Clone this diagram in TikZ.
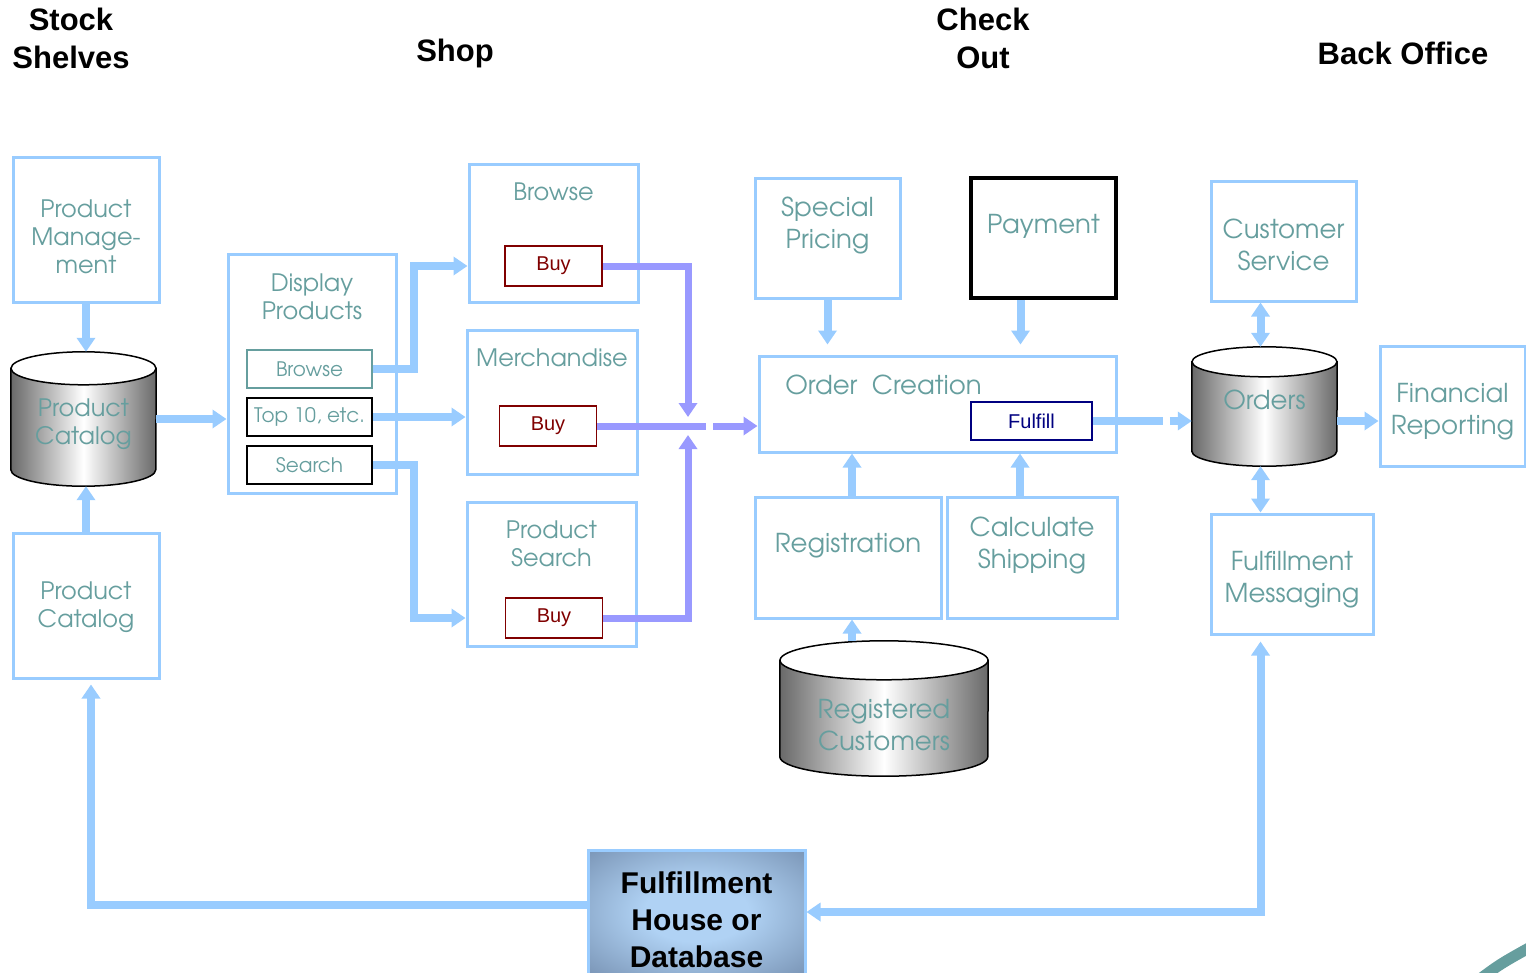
\documentclass[tikz,border=0pt]{standalone}
\usepackage{fontspec}
\setmainfont{Liberation Sans}
\newfontfamily\gothic{TeX Gyre Adventor}
\usetikzlibrary{arrows.meta}
\usetikzlibrary{positioning}

\definecolor{boxblue}{RGB}{153,204,255}
\definecolor{buyblue}{RGB}{153,153,255}
\definecolor{tealtext}{RGB}{102,158,158}
\definecolor{buyred}{RGB}{128,0,0}
\definecolor{fillnavy}{RGB}{0,0,128}
\definecolor{drumgray}{RGB}{105,105,105}
\definecolor{fhdark}{RGB}{70,90,122}
\definecolor{fhlight}{RGB}{176,210,244}
\definecolor{swoosh}{RGB}{102,158,158}

\pgfdeclareradialshading{fhshade}{\pgfpoint{0bp}{0bp}}{%
  color(0bp)=(fhlight); color(12bp)=(fhlight); color(40bp)=(fhdark!60!fhlight); color(62bp)=(fhdark); color(80bp)=(fhdark)}

% database drum: node name, x radius, y radius
\newcommand\drum[3]{%
  \shadedraw[left color=drumgray, right color=drumgray, middle color=white, line width=1.5pt]
    ([yshift=-#3pt]#1.north west) -- ([yshift=#3pt]#1.south west)
    arc[start angle=180, end angle=0, x radius=#2, y radius=#3]
    -- ([yshift=-#3pt]#1.north east) -- cycle;
  \filldraw[fill=white, line width=1.5pt] ([yshift=-#3pt]#1.north) ellipse[x radius=#2, y radius=#3];
}

\tikzset{
  box/.style={draw=boxblue, line width=3pt, inner sep=0pt},
  tealtxt/.style={text=tealtext, font=\gothic\fontsize{24}{28}\selectfont, align=center},
  bigteal/.style={text=tealtext, font=\gothic\fontsize{26}{32}\selectfont, align=center},
  minibox/.style={draw=#1, line width=2pt, minimum width=125, minimum height=38, inner sep=0pt,
    text=tealtext, font=\gothic\fontsize{20}{24}\selectfont},
  buybox/.style={draw=buyred, line width=1.6pt, minimum width=97, minimum height=40, inner sep=0pt,
    text=buyred, font=\fontsize{20}{24}\selectfont},
  head/.style={font=\bfseries\fontsize{31}{38}\selectfont, align=center},
  drumnode/.style={inner sep=0pt},
  flow/.style={draw=boxblue, line width=8pt, ->},
  buyflow/.style={draw=buyblue, line width=7pt, ->},
}

\begin{document}
\begin{tikzpicture}[x=1pt,y=-1pt,>={Triangle[width=18pt,length=14pt]}]
\path[use as bounding box] (0,0) rectangle (1526,972);
\clip (0,0) rectangle (1526,972);

% Column headings
\node[head] (hstock) at (71,38) {Stock\\Shelves};
\node[head] (hshop) at (455,53) {Shop};
\node[head] (hcheck) at (983,38) {Check\\Out};
\node[head] (hback) at (1403,53) {Back Office};

% Stock shelves
\node[box, minimum width=146, minimum height=145] (pman) at (86,230) {};
\node[tealtxt] (pmanlbl) at ([yshift=-7]pman.center) {Product\\Manage-\\ment};
\node[drumnode, minimum width=145, minimum height=134] (pcat) at (83.5,419) {};
\drum{pcat}{72.5}{16.5}
\node[tealtxt] (pcatlbl) at ([yshift=-5]pcat.center) {Product\\Catalog};
\node[box, minimum width=146, minimum height=145] (pcbox) at (86,605.5) {};
\node[tealtxt] (pcboxlbl) at ([yshift=-2]pcbox.center) {Product\\Catalog};

% Shop
\node[box, minimum width=168, minimum height=239] (disp) at (312,373.5) {};
\node[tealtxt] (displbl) at ([yshift=77]disp.center) {Display\\Products};
\node[minibox=tealtext] (dbrowse) at (309.5,369) {Browse};
\node[minibox=black] (dtop) at (309.5,417) {Top 10, etc.};
\node[minibox=black] (dsearch) at (309.5,465) {Search};

\node[box, minimum width=169, minimum height=138] (browse) at (553.5,233) {};
\node[tealtxt] (browselbl) at ([yshift=41]browse.center) {Browse};
\node[buybox] (buy1) at (553.5,266) {Buy};
\node[box, minimum width=170, minimum height=144] (merch) at (552,402) {};
\node[tealtxt] (merchlbl) at ([yshift=44]merch.center) {Merchandise};
\node[buybox] (buy2) at (548,426) {Buy};
\node[box, minimum width=169, minimum height=144] (psearch) at (551.5,574) {};
\node[tealtxt] (psearchlbl) at ([yshift=30]psearch.center) {Product\\Search};
\node[buybox] (buy3) at (554,618) {Buy};

% Check out
\node[box, minimum width=145, minimum height=120] (sprice) at (827.5,238) {};
\node[bigteal] (spricelbl) at ([yshift=12]sprice.center) {Special\\Pricing};
\node[draw=black, line width=3.5pt, minimum width=145, minimum height=120] (payment) at (1043.5,238) {};
\node[bigteal] (paymentlbl) at ([yshift=12]payment.center) {Payment};
\node[box, minimum width=357, minimum height=96] (ordc) at (937.5,404) {};
\node[bigteal] (ordclbl) at ([xshift=-54,yshift=19]ordc.center) {Order\ \ Creation};
\node[draw=fillnavy, line width=1.6pt, minimum width=121, minimum height=38, inner sep=0pt,
  text=fillnavy, font=\fontsize{20}{24}\selectfont] (fulfill) at (1031.5,421) {Fulfill};
\node[box, minimum width=186, minimum height=121] (reg) at (848,557.5) {};
\node[bigteal] (reglbl) at ([yshift=12]reg.center) {Registration};
\node[box, minimum width=170, minimum height=121] (cship) at (1032,557.5) {};
\node[bigteal] (cshiplbl) at ([yshift=12]cship.center) {Calculate\\Shipping};
\node[drumnode, minimum width=208, minimum height=135] (rcust) at (884,708.5) {};
\drum{rcust}{104}{19.5}
\node[bigteal] (rcustlbl) at ([yshift=-17]rcust.center) {Registered\\Customers};

% Back office
\node[box, minimum width=145, minimum height=120] (csvc) at (1283.5,241) {};
\node[bigteal] (csvclbl) at ([yshift=-4]csvc.center) {Customer\\Service};
\node[drumnode, minimum width=145, minimum height=119] (orders) at (1264.5,406.5) {};
\drum{orders}{72.5}{15}
\node[bigteal] (orderslbl) at ([yshift=7]orders.center) {Orders};
\node[box, minimum width=145, minimum height=120] (finrep) at (1452.5,406) {};
\node[bigteal] (finreplbl) at ([yshift=-6]finrep.center) {Financial\\Reporting};
\node[box, minimum width=162, minimum height=120] (fmsg) at (1292,574) {};
\node[bigteal] (fmsglbl) at ([yshift=-6]fmsg.center) {Fulfillment\\Messaging};

% Fulfillment house
\node[box, shade, shading=fhshade, minimum width=217, minimum height=124] (fhouse) at (696.5,912) {};
\node[font=\bfseries\fontsize{30}{37}\selectfont, align=center] (fhouselbl) at ([yshift=-8]fhouse.center) {Fulfillment\\House or\\Database};

% Connectors
\draw[flow] (pman.south) -- (pman.south |- pcat.north);
\draw[flow] (pcbox.north) -- (pcbox.north |- pcat.south);
\draw[flow] (pcat.east) -- (pcat.east -| disp.west);
\draw[flow] (dbrowse.east) -- ++(41,0) |- (browse.west |- buy1);
\draw[flow] (dtop.east) -- (dtop.east -| merch.west);
\draw[flow] (dsearch.east) -- ++(41,0) |- (psearch.west |- buy3);

\coordinate (merge) at (688,426);
\draw[buyflow, shorten >=9pt] (buy1.east) -| (merge);
\draw[buyflow, shorten >=9pt] (buy3.east) -| (merge);
\draw[buyflow, dash pattern=on 109pt off 7pt on 80pt] (buy2.east) -- (buy2.east -| ordc.west);

\draw[flow, shorten >=10pt] (sprice.south) -- (sprice.south |- ordc.north);
\draw[flow, shorten >=10pt] ([xshift=-23]payment.south) -- ([xshift=-23]payment.south |- ordc.north);
\draw[flow] ([xshift=4]reg.north) -- ([xshift=4]reg.north |- ordc.south);
\draw[flow] ([xshift=-12]cship.north) -- ([xshift=-12]cship.north |- ordc.south);
\draw[flow] ([xshift=4]reg.south |- rcust.north) -- ([xshift=4]reg.south);
\draw[flow, dash pattern=on 70pt off 7pt on 40pt] (fulfill.east) -- (fulfill.east -| orders.west);

\draw[flow, <->] ([xshift=-4]orders.north) -- ([xshift=-4]orders.north |- csvc.south);
\draw[flow] (orders.east |- fulfill) -- (finrep.west |- fulfill);
\draw[flow, <->] ([xshift=-4]orders.south) -- ([xshift=-4]orders.south |- fmsg.north);
\draw[flow, <->, shorten <=6pt] ([xshift=-4]orders.south |- fmsg.south) |- (fhouse.east);
\draw[flow, shorten >=5pt] ([yshift=7]fhouse.west) -| ([xshift=5]pcbox.south);

% corner swoosh
\draw[swoosh, line width=11pt] (1476,982) .. controls (1500,964) .. (1536,944);
\end{tikzpicture}
\end{document}
